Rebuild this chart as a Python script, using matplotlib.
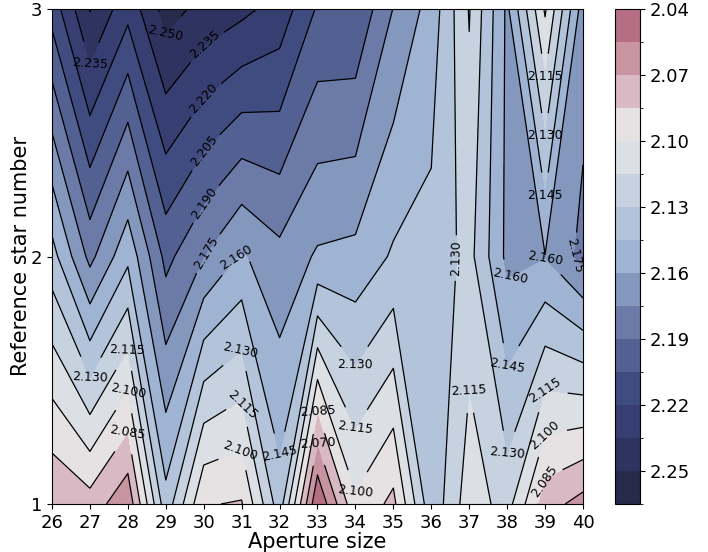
import numpy as np
import matplotlib
matplotlib.use("Agg")
import matplotlib.pyplot as plt
from matplotlib.colors import ListedColormap, BoundaryNorm

# Data
aperture = [26, 27, 28, 29, 30, 31, 32, 33, 34, 35, 36, 37, 38, 39, 40]
ref_star = [1, 2, 3]
z_star1 = [2.0710, 2.0786, 2.0589, 2.1397, 2.0860, 2.0838, 2.1387, 2.0413,
           2.0971, 2.0810, 2.1410, 2.1065, 2.1213, 2.0763, 2.0644]
z_star2 = [2.1390, 2.1793, 2.1487, 2.1945, 2.1750, 2.1580, 2.1704, 2.1580,
           2.1558, 2.1430, 2.1400, 2.1250, 2.1637, 2.1605, 2.1793]
z_star3 = [2.2110, 2.2508, 2.2249, 2.2561, 2.2454, 2.2388, 2.2294, 2.2033,
           2.2033, 2.1745, 2.1540, 2.1140, 2.1630, 2.0980, 2.1677]
levels = [round(2.040 + 0.015 * i, 3) for i in range(16)]
cbar_ticks = [2.04, 2.07, 2.10, 2.13, 2.16, 2.19, 2.22, 2.25]

# where the contour labels sit (data coordinates)
label_spots = [
    (28.98, 2.90), (26.95, 2.77), (30.03, 2.855), (29.98, 2.644),
    (29.98, 2.43), (29.98, 2.22), (29.98, 2.026), (30.85, 1.998),
    (36.62, 1.994), (39.0, 2.721), (39.0, 2.471), (39.0, 2.22),
    (39.0, 1.994), (39.71, 2.006), (38.30, 1.86),
    (27.98, 1.622), (27.0, 1.509), (27.98, 1.461), (27.98, 1.291),
    (30.96, 1.622), (30.96, 1.40), (30.96, 1.21), (32.01, 1.202),
    (32.99, 1.38), (32.99, 1.25), (33.99, 1.562), (33.99, 1.307),
    (33.99, 1.048), (37.02, 1.493), (38.0, 1.541), (38.0, 1.202),
    (39.0, 1.48), (39.0, 1.279), (39.0, 1.089),
]

band_colors = ["#b66e84", "#c994a2", "#d9bac4", "#e6e1e2", "#dce0e5",
               "#c6d2df", "#b3c4da", "#9fb3d3", "#8497bd", "#6c7aa8",
               "#536092", "#404c80", "#373e72", "#2e3360", "#262a4b"]

X, Y = np.meshgrid(aperture, ref_star)
Z = np.array([z_star1, z_star2, z_star3])

cmap = ListedColormap(band_colors)
norm = BoundaryNorm(levels, cmap.N)

fig = plt.figure(figsize=(7.08, 5.52), dpi=100)
ax = fig.add_axes([52 / 708, 1 - 504 / 552, 531 / 708, 495 / 552])
cax = fig.add_axes([615 / 708, 1 - 504 / 552, 25 / 708, 495 / 552])

cf = ax.contourf(X, Y, Z, levels=levels, cmap=cmap, norm=norm)
cs = ax.contour(X, Y, Z, levels=levels, colors="k", linewidths=0.9)
ax.clabel(cs, inline=True, fontsize=9, fmt="%1.3f", manual=label_spots)

ax.set_xticks(aperture)
ax.set_yticks(ref_star)
ax.tick_params(labelsize=13)
ax.set_xlabel("Aperture size", fontsize=15, labelpad=0)
ax.set_ylabel("Reference star number", fontsize=15, labelpad=0)

cb = fig.colorbar(cf, cax=cax, ticks=cbar_ticks)
cb.ax.invert_yaxis()
cb.ax.set_yticklabels([f"{t:.2f}" for t in cbar_ticks])
cb.ax.tick_params(labelsize=13)

fig.savefig("out.png", dpi=100)
